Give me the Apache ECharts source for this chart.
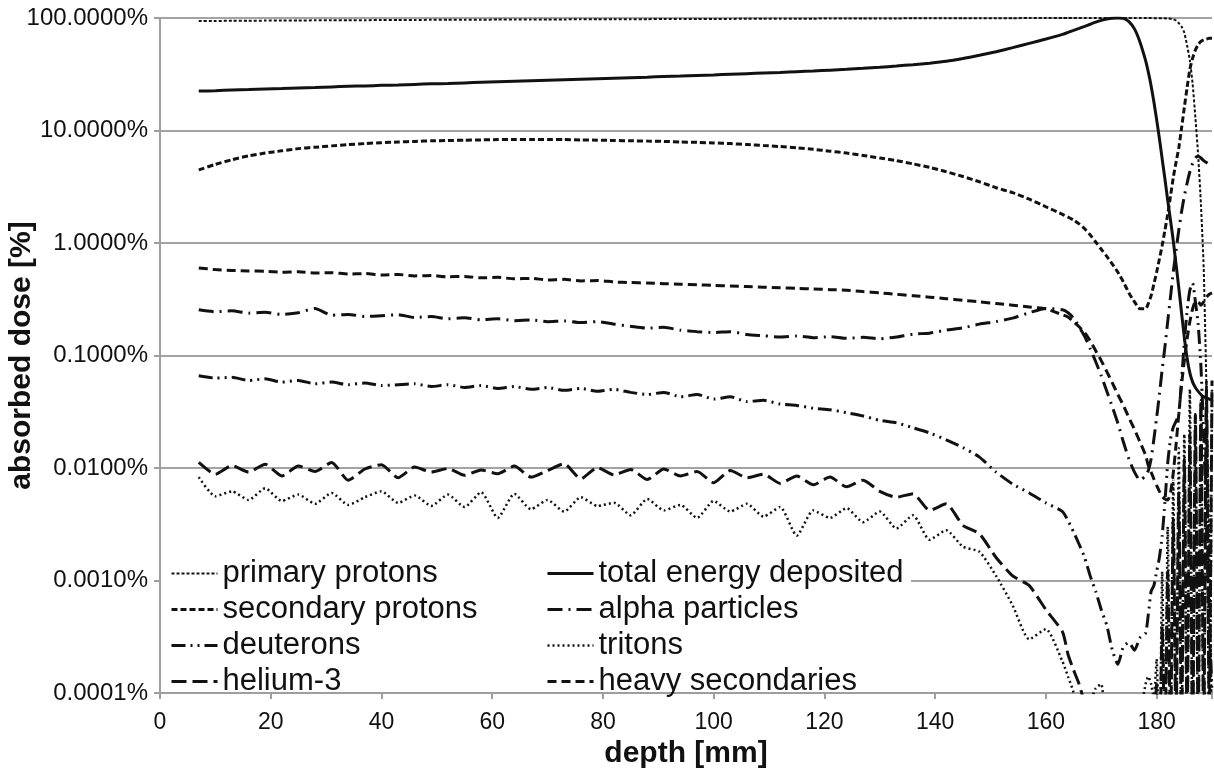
<!DOCTYPE html>
<html>
<head>
<meta charset="utf-8">
<title>absorbed dose vs depth</title>
<script src="https://cdn.jsdelivr.net/npm/echarts@6.0.0/dist/echarts.min.js"></script>
<style>
  html, body { margin: 0; padding: 0; background: #fff; }
  #main { width: 1214px; height: 778px; }
</style>
</head>
<body>
<div id="main"></div>
<script>
// depth [mm] - coarse steps up to 163, finer near the Bragg peak
var depth = [7,10,13,16,19,22,25,28,31,34,37,40,43,46,49,52,55,58,61,64,67,70,73,76,79,82,85,88,91,94,97,100,103,106,109,112,115,118,121,124,127,130,133,136,139,142,145,148,151,154,157,160,163,
  164,165,166,167,168,169,170,171,172,173,174,175,176,177,178,
  178.5,179,179.5,180,180.5,181,181.5,182,182.5,183,183.5,184,184.5,185,185.5,186,186.5,187,187.5,188,188.5,189,189.5,190];

// absorbed dose in %
var primaryProtons = [94.0,94.2,94.4,94.6,94.8,95.0,95.1,95.3,95.4,95.6,95.7,95.9,96.0,96.1,96.3,96.4,96.5,96.6,96.8,96.9,97.0,97.1,97.2,97.3,97.4,97.5,97.6,97.7,97.8,97.9,98.0,98.1,98.2,98.3,98.4,98.5,98.6,98.7,98.8,98.9,99.0,99.1,99.2,99.3,99.4,99.5,99.6,99.6,99.7,99.7,99.8,99.8,99.9,
  99.9,99.9,99.9,99.9,99.9,99.9,99.9,99.9,99.9,99.9,99.9,99.9,99.9,99.9,99.8,
  99.8,99.8,99.7,99.7,99.6,99.5,99.3,99.0,98.5,97.5,95,90,84,74,57,42,26,13,6,2.2,0.6,0.05,0.002,0.00005];

var totalEnergy = [22.4,22.6,22.9,23.1,23.4,23.6,23.9,24.1,24.4,24.7,24.9,25.2,25.4,25.7,26.0,26.2,26.5,26.8,27.1,27.4,27.7,28.0,28.3,28.6,28.9,29.2,29.5,29.8,30.2,30.5,30.9,31.2,31.6,32.0,32.4,32.8,33.3,33.8,34.4,35.0,35.7,36.5,37.4,38.5,39.7,41.2,43.6,46.6,50.2,54.5,59.5,65.0,71.5,
  74.5,77.5,80.8,84.3,88.0,91.8,95.2,97.9,99.5,100,99.3,93,80,61,42,
  33,25,18,12.5,8.5,5.6,3.7,2.4,1.6,1.05,0.65,0.4,0.24,0.145,0.095,0.07,0.058,0.052,0.048,0.045,0.043,0.042,0.041,0.04];

var secondaryProtons = [4.46,5.0,5.5,5.95,6.3,6.6,6.9,7.1,7.3,7.5,7.65,7.8,7.9,8.0,8.1,8.15,8.2,8.25,8.3,8.3,8.3,8.3,8.3,8.25,8.2,8.15,8.1,8.05,8.0,7.9,7.85,7.75,7.65,7.5,7.35,7.2,7.0,6.8,6.55,6.3,6.0,5.7,5.4,5.05,4.7,4.3,3.9,3.5,3.1,2.8,2.45,2.1,1.8,
  1.7,1.6,1.48,1.34,1.18,1.02,0.88,0.76,0.65,0.55,0.45,0.36,0.3,0.26,0.26,
  0.29,0.34,0.43,0.55,0.72,0.95,1.3,1.8,2.6,3.8,5.2,7,10.5,16,24,35,44,52,58,62,64,65,66,66];

var heavySecondaries = [0.6,0.58,0.57,0.565,0.56,0.55,0.555,0.54,0.545,0.53,0.535,0.52,0.525,0.51,0.515,0.5,0.505,0.49,0.495,0.48,0.485,0.47,0.475,0.46,0.465,0.45,0.445,0.44,0.435,0.43,0.425,0.42,0.415,0.41,0.405,0.4,0.395,0.39,0.385,0.38,0.37,0.36,0.35,0.34,0.33,0.32,0.31,0.3,0.29,0.28,0.27,0.26,0.23,
  0.22,0.2,0.18,0.16,0.135,0.11,0.09,0.072,0.057,0.045,0.036,0.028,0.022,0.017,0.013,
  0.0105,0.0092,0.008,0.007,0.0062,0.0056,0.0053,0.0052,0.006,0.009,0.016,0.03,0.055,0.09,0.14,0.2,0.26,0.3,0.3,0.28,0.3,0.33,0.35,0.36];

var alphaParticles = [0.255,0.245,0.25,0.238,0.242,0.232,0.24,0.262,0.228,0.232,0.222,0.226,0.23,0.218,0.222,0.212,0.216,0.208,0.212,0.204,0.207,0.2,0.203,0.196,0.2,0.19,0.182,0.175,0.178,0.168,0.163,0.16,0.163,0.154,0.15,0.146,0.149,0.144,0.147,0.142,0.145,0.141,0.146,0.155,0.158,0.168,0.176,0.19,0.2,0.215,0.24,0.262,0.255,
  0.24,0.215,0.18,0.148,0.115,0.088,0.066,0.048,0.035,0.025,0.017,0.012,0.0092,0.0078,0.0085,
  0.0095,0.012,0.018,0.028,0.045,0.075,0.12,0.2,0.33,0.55,0.85,1.3,1.9,2.6,3.4,4.3,5.1,5.7,5.9,5.7,5.4,5.2,5.0,4.9];

var deuterons = [0.066,0.063,0.064,0.06,0.062,0.058,0.06,0.056,0.058,0.055,0.057,0.054,0.055,0.056,0.053,0.055,0.052,0.054,0.051,0.053,0.05,0.052,0.049,0.051,0.048,0.05,0.047,0.045,0.047,0.043,0.045,0.041,0.043,0.039,0.04,0.037,0.036,0.034,0.033,0.031,0.029,0.0265,0.0252,0.0228,0.0205,0.0178,0.0152,0.0125,0.0092,0.0072,0.006,0.0049,0.0041,
  0.0034,0.0027,0.0021,0.0016,0.0011,0.0008,0.00055,0.0004,0.00024,0.00018,0.00026,0.00028,0.00024,0.00031,0.00034,
  0.0005,0.0008,0.0009,0.0012,0.0016,0.0025,0.005,0.011,0.018,0.023,0.026,0.03,0.06,0.13,0.25,0.38,0.44,0.3,0.19,0.08,0.02,0.003,0.0005,0.0001];

var helium3 = [0.0112,0.0088,0.0105,0.0092,0.0108,0.0085,0.0104,0.0093,0.0112,0.0078,0.0098,0.0107,0.0082,0.0102,0.0092,0.0099,0.0086,0.0096,0.0089,0.0104,0.0083,0.0095,0.0109,0.008,0.0101,0.0087,0.0097,0.0079,0.0098,0.0085,0.0093,0.0074,0.0095,0.0082,0.0088,0.0073,0.0085,0.0071,0.0083,0.0068,0.0078,0.0062,0.0055,0.0059,0.0042,0.0048,0.0031,0.0026,0.0016,0.0011,0.0009,0.00055,0.00035,
  0.00022,0.00016,0.00012,0.00008,0.00005,0.00003,0.00002,0.00001,0.00001,0.00001,0.00001,0.00001,0.00001,0.00001,0.00001,
  0.00001,0.00001,0.00003,0.00012,0.00002,0.0004,0.00003,0.0012,0.00004,0.0035,0.00005,0.006,0.00004,0.012,0.00005,0.02,0.00003,0.03,0.00005,0.04,0.00004,0.05,0.00006,0.06];

var tritons = [0.0083,0.0056,0.0062,0.0052,0.0066,0.0051,0.0058,0.0048,0.006,0.0047,0.0055,0.0062,0.0049,0.0057,0.0046,0.0058,0.0045,0.0061,0.0036,0.0059,0.0043,0.0052,0.0041,0.0055,0.0046,0.0049,0.0038,0.0053,0.0042,0.0047,0.0036,0.0051,0.0041,0.0048,0.0037,0.0045,0.0025,0.0042,0.0036,0.0044,0.0033,0.0041,0.0029,0.0038,0.0023,0.0028,0.002,0.0018,0.0011,0.0006,0.0003,0.00037,0.00019,
  0.00014,0.0001,0.00004,0.00002,0.00008,0.00011,0.00012,0.00003,0.00001,0.00001,0.00001,0.00001,0.00001,0.00006,0.00012,
  0.00014,0.00012,0.00009,0.0002,0.00002,0.0012,0.00002,0.003,0.00003,0.008,0.00002,0.015,0.00003,0.02,0.00002,0.05,0.00003,0.03,0.00002,0.04,0.00003,0.06,0.00002,0.05];

var xTicks = [0, 20, 40, 60, 80, 100, 120, 140, 160, 180];
var yTicks = [0.0001, 0.001, 0.01, 0.1, 1, 10, 100];

var FONT = '"Liberation Sans", Arial, sans-serif';
var INK = '#111';
var GRIDGRAY = '#9e9e9e';

function pairs(values) {
  return depth.map(function (d, i) { return [d, values[i]]; });
}

function makeLine(name, values, type, width) {
  return {
    name: name,
    type: 'line',
    data: pairs(values),
    symbol: 'none',
    smooth: 0.2,
    clip: true,
    lineStyle: { color: INK, width: width, type: type },
    itemStyle: { color: 'rgba(0,0,0,0)' },
    emphasis: { disabled: true }
  };
}

var chart = echarts.init(document.getElementById('main'), null, { renderer: 'canvas' });

function legendBlock(left, names) {
  return {
    orient: 'vertical',
    left: left, top: 558,
    padding: 0, itemGap: 5,
    itemWidth: 46, itemHeight: 14,
    textStyle: { fontFamily: FONT, fontSize: 31, color: INK },
    // only the line sample, no marker dot
    itemStyle: { opacity: 0, borderWidth: 0 },
    lineStyle: { width: 'inherit' },
    data: names
  };
}

var option = {
  animation: false,
  backgroundColor: '#fff',
  grid: { left: 160, right: 2, top: 18, bottom: 85, outerBoundsMode: 'none', containLabel: false },
  // white box behind the legend hides the 0.001% grid line there
  graphic: [{
    type: 'rect',
    z: 1,
    shape: { x: 161, y: 549, width: 750, height: 142 },
    style: { fill: '#fff' },
    silent: true
  }],
  legend: [
    legendBlock(170, ['primary protons', 'secondary protons', 'deuterons', 'helium-3']),
    legendBlock(546, ['total energy deposited', 'alpha particles', 'tritons', 'heavy secondaries'])
  ],
  xAxis: {
    type: 'value',
    min: 0, max: 190, interval: 20,
    name: 'depth [mm]',
    nameLocation: 'middle',
    nameGap: 46,
    nameMoveOverlap: false,
    nameTextStyle: { fontFamily: FONT, fontSize: 30, fontWeight: 'bold', color: INK },
    axisLine: { lineStyle: { color: GRIDGRAY, width: 2 } },
    axisTick: { show: true, length: 6, lineStyle: { color: GRIDGRAY, width: 2 } },
    axisLabel: {
      fontFamily: FONT, fontSize: 23, color: INK, margin: 18,
      formatter: function (v) { return xTicks.indexOf(v) >= 0 ? String(v) : ''; }
    },
    splitLine: { show: false }
  },
  yAxis: {
    type: 'log',
    logBase: 10,
    min: yTicks[0], max: yTicks[yTicks.length - 1],
    name: 'absorbed dose [%]',
    nameLocation: 'middle',
    nameGap: 123,
    nameMoveOverlap: false,
    nameTextStyle: { fontFamily: FONT, fontSize: 30, fontWeight: 'bold', color: INK },
    axisLine: { show: true, lineStyle: { color: GRIDGRAY, width: 2 } },
    axisTick: { show: true, length: 6, lineStyle: { color: GRIDGRAY, width: 2 } },
    axisLabel: {
      fontFamily: FONT, fontSize: 24, color: INK, margin: 12,
      formatter: function (v) { return Number(v).toFixed(4) + '%'; }
    },
    minorTick: { show: false },
    splitLine: { show: true, lineStyle: { color: '#a3a3a3', width: 2 } }
  },
  series: [
    makeLine('primary protons', primaryProtons, [3, 2], 2),
    makeLine('secondary protons', secondaryProtons, [6, 3], 3),
    makeLine('deuterons', deuterons, [14, 5, 2, 5, 2, 5], 3),
    makeLine('helium-3', helium3, [15, 6], 3),
    makeLine('total energy deposited', totalEnergy, 'solid', 3),
    makeLine('alpha particles', alphaParticles, [15, 6, 2, 6], 3),
    makeLine('tritons', tritons, [2, 3], 2.5),
    makeLine('heavy secondaries', heavySecondaries, [9, 5], 3)
  ]
};

chart.setOption(option);
</script>
</body>
</html>
